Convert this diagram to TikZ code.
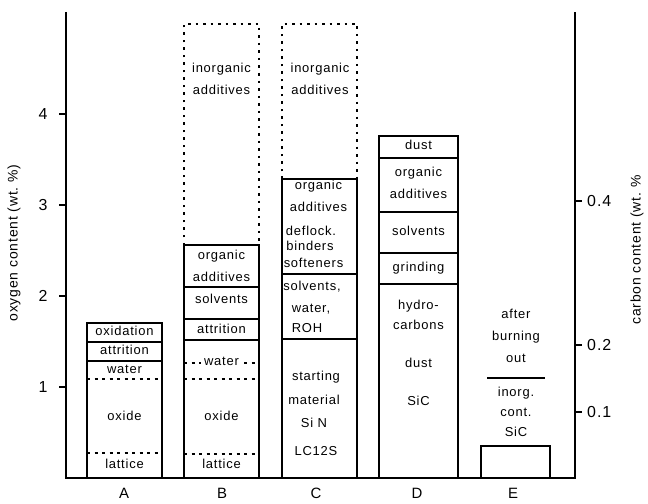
\documentclass[tikz,border=0pt]{standalone}
\usepackage{fontspec}
\setmainfont{Liberation Sans}[LetterSpace=6]
\usetikzlibrary{positioning}

\begin{document}
\begin{tikzpicture}[x=1bp,y=-1bp,node distance=22bp,
    word/.style={font=\fontsize{13}{15}\selectfont,inner sep=0pt,text height=1ex,text depth=0pt},
    num/.style={font=\fontsize{16}{18}\selectfont,inner sep=0pt},
    cat/.style={font=\fontsize{15}{17}\selectfont,inner sep=0pt,text height=1.2ex,text depth=0pt},
    frame/.style={line width=1.3bp},
    cut/.style={line width=1.1bp,dash pattern=on 3bp off 4.5bp},
    ghost/.style={line width=1.1bp,dash pattern=on 2.5bp off 5bp}]
\useasboundingbox (0,0) rectangle (648,504);

% define the axes
  \draw[frame] (66,12) -- (66,478) -- (575,478) -- (575,12);
  \foreach \v/\y in {1/387,2/296,3/205,4/114}{
    \draw[frame] (59,\y) -- (66,\y);
    \node[num] (ox\v) at (43,\y) {\v};
  }
  \foreach \c/\y/\i in {0.1/412/1,0.2/345/2,0.4/201/4}{
    \draw[frame] (575,\y) -- (582,\y);
    \node[num,anchor=west] (cc\i) at (587,\y) {\c};
  }
  \node[word,font=\fontsize{14}{16}\selectfont,rotate=90] (oxlabel) at (15,243) {oxygen content (wt.\ \%)};
  \node[word,font=\fontsize{14}{16}\selectfont,rotate=90] (cclabel) at (638,250) {carbon content (wt.\ \%};

  \node[cat] (catA) at (124,495) {A};
  \node[cat] (catB) at (222,495) {B};
  \node[cat] (catC) at (316,495) {C};
  \node[cat] (catD) at (417,495) {D};
  \node[cat] (catE) at (513,495) {E};

% define the bar A
  \draw[frame] (87,323) rectangle (162,478);
  \draw[frame] (87,342) -- (162,342);
  \draw[frame] (87,361) -- (162,361);
  \draw[cut] (87,379) -- (162,379);
  \draw[cut] (87,453) -- (162,453);
  \node[word] (aox)  at (124.5,333) {oxidation};
  \node[word] (aatt) at (124.5,352) {attrition};
  \node[word] (awat) at (124.5,371) {water};
  \node[word] (aoxd) at (124.5,418) {oxide};
  \node[word] (alat) at (124.5,466) {lattice};

% define the bar B
  \draw[ghost] (184,245) -- (184,24) -- (259,24) -- (259,245);
  \draw[frame] (184,245) rectangle (259,478);
  \draw[frame] (184,287) -- (259,287);
  \draw[frame] (184,319) -- (259,319);
  \draw[frame] (184,340) -- (259,340);
  \draw[cut] (184,363) -- (259,363);
  \draw[cut] (184,379) -- (259,379);
  \draw[cut] (184,454) -- (259,454);
  \node[word] (binorg) at (221.5,70) {inorganic};
  \node[word] (binadd) [below of=binorg] {additives};
  \node[word] (borg)   at (221.5,257) {organic};
  \node[word] (badd)   [below of=borg] {additives};
  \node[word] (bsol)   at (221.5,301) {solvents};
  \node[word] (batt)   at (221.5,331) {attrition};
  \node[word,fill=white,inner xsep=3bp] (bwat) at (221.5,363) {water};
  \node[word] (boxd)   at (221.5,418) {oxide};
  \node[word] (blat)   at (221.5,466) {lattice};

% define the bar C
  \draw[ghost] (282,179) -- (282,24) -- (357,24) -- (357,179);
  \draw[frame] (282,179) rectangle (357,478);
  \draw[frame] (282,274) -- (357,274);
  \draw[frame] (282,339) -- (357,339);
  \node[word] (cinorg) at (320,70) {inorganic};
  \node[word] (cinadd) [below of=cinorg] {additives};
  \node[word] (corg)   at (318.5,187) {organic};
  \node[word] (cadd)   [below of=corg] {additives};
  \node[word] (cdef)   at (311,233) {deflock.};
  \node[word] (cbin)   at (310,248) {binders};
  \node[word] (csof)   at (313.5,265) {softeners};
  \node[word] (csol)   at (312,288) {solvents,};
  \node[word] (cwat)   at (311,310) {water,};
  \node[word] (croh)   at (307,330) {ROH};
  \node[word] (csta)   at (316,378) {starting};
  \node[word] (cmat)   at (314,402) {material};
  \node[word] (csin)   at (314,425) {Si N};
  \node[word] (clc)    at (316,453) {LC12S};

% define the bar D
  \draw[frame] (379,136) rectangle (458,478);
  \draw[frame] (379,158) -- (458,158);
  \draw[frame] (379,212) -- (458,212);
  \draw[frame] (379,253) -- (458,253);
  \draw[frame] (379,284) -- (458,284);
  \node[word] (ddus)  at (418.5,147) {dust};
  \node[word] (dorg)  at (418.5,174) {organic};
  \node[word] (dadd)  [below of=dorg] {additives};
  \node[word] (dsol)  at (418.5,233) {solvents};
  \node[word] (dgri)  at (418.5,269) {grinding};
  \node[word] (dhyd)  at (418.5,307) {hydro-};
  \node[word] (dcar)  at (418.5,327) {carbons};
  \node[word] (ddus2) at (418.5,365) {dust};
  \node[word] (dsic)  at (418.5,403) {SiC};

% define the bar E
  \draw[frame] (481,478) -- (481,446) -- (550,446) -- (550,478);
  \node[word] (eaft) at (516,316) {after};
  \node[word] (ebur) [below of=eaft] {burning};
  \node[word] (eout) [below of=ebur] {out};
  \draw[frame] (487,378) -- (545,378);
  \node[word] (einr) at (516,394) {inorg.};
  \node[word] (econ) at (516,414) {cont.};
  \node[word] (esic) at (516,434) {SiC};
\end{tikzpicture}
\end{document}
